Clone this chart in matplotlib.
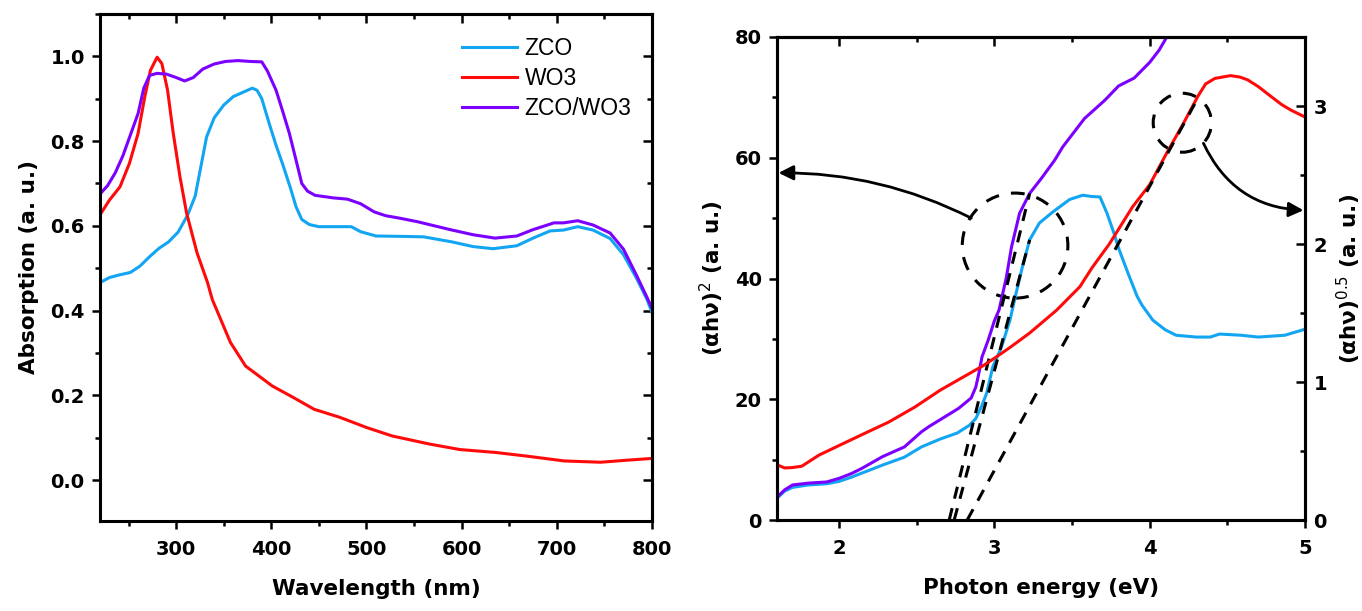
import matplotlib
matplotlib.use('Agg')
import matplotlib.pyplot as plt
from matplotlib.ticker import MultipleLocator
from matplotlib.patches import Ellipse

# ---- left panel: absorption spectra ----
wl_zco = [220, 230, 240, 252, 262, 272, 282, 292, 302, 312, 320, 326, 332, 340, 350,
          360, 370, 380, 385, 390, 398, 405, 412, 420, 426, 432, 440, 450, 470, 484,
          494, 510, 540, 560, 590, 612, 633, 658, 675, 693, 707, 722, 738, 756, 770,
          784, 795, 800]
abs_zco = [0.466, 0.478, 0.484, 0.490, 0.505, 0.527, 0.547, 0.562, 0.585, 0.625, 0.670,
           0.740, 0.810, 0.855, 0.885, 0.905, 0.915, 0.925, 0.920, 0.900, 0.840, 0.790,
           0.745, 0.690, 0.645, 0.615, 0.603, 0.598, 0.598, 0.598, 0.586, 0.576, 0.575,
           0.574, 0.562, 0.551, 0.546, 0.553, 0.571, 0.588, 0.590, 0.598, 0.590, 0.570,
           0.532, 0.475, 0.425, 0.395]

wl_wo3 = [220, 230, 241, 251, 260, 267, 273, 280, 285, 291, 297, 304, 311, 322, 333,
          338, 357, 373, 401, 423, 445, 472, 500, 527, 566, 598, 636, 670, 708, 746,
          775, 800]
abs_wo3 = [0.626, 0.661, 0.692, 0.748, 0.818, 0.904, 0.967, 0.998, 0.983, 0.920, 0.818,
           0.716, 0.630, 0.536, 0.466, 0.426, 0.325, 0.269, 0.222, 0.195, 0.167, 0.148,
           0.124, 0.104, 0.085, 0.072, 0.065, 0.056, 0.045, 0.042, 0.047, 0.051]

wl_mix = [220, 228, 236, 244, 252, 260, 266, 272, 280, 290, 300, 309, 318, 328, 340,
          352, 365, 378, 390, 396, 405, 412, 419, 426, 432, 438, 446, 465, 480, 494,
          508, 520, 535, 553, 588, 612, 635, 658, 675, 697, 707, 722, 738, 756, 770,
          784, 795, 800]
abs_mix = [0.675, 0.695, 0.725, 0.765, 0.815, 0.865, 0.925, 0.955, 0.960, 0.958, 0.950,
           0.942, 0.950, 0.970, 0.982, 0.988, 0.990, 0.988, 0.987, 0.965, 0.920, 0.870,
           0.818, 0.755, 0.700, 0.682, 0.672, 0.666, 0.663, 0.652, 0.633, 0.624, 0.618,
           0.610, 0.591, 0.579, 0.571, 0.576, 0.591, 0.607, 0.607, 0.612, 0.602, 0.583,
           0.545, 0.482, 0.430, 0.405]

# ---- right panel: Tauc plots ----
e_zco = [1.60, 1.65, 1.70, 1.80, 1.92, 2.00, 2.08, 2.15, 2.28, 2.42, 2.53, 2.65, 2.76,
         2.84, 2.88, 2.92, 2.95, 2.99, 3.045, 3.10, 3.14, 3.18, 3.227, 3.29, 3.375,
         3.485, 3.57, 3.62, 3.68, 3.725, 3.77, 3.80, 3.86, 3.92, 3.95, 4.02, 4.10, 4.17,
         4.30, 4.39, 4.45, 4.59, 4.70, 4.87, 5.00]
t_zco = [3.6, 4.8, 5.4, 5.8, 6.0, 6.4, 7.1, 7.8, 9.1, 10.4, 12.1, 13.4, 14.4, 15.7, 16.8,
         19.0, 21.0, 25.4, 28.6, 33.1, 37.6, 41.9, 46.4, 49.2, 51.0, 53.1, 53.8, 53.6,
         53.5, 50.8, 47.5, 45.0, 40.9, 37.0, 35.6, 33.1, 31.5, 30.6, 30.3, 30.3, 30.8,
         30.6, 30.3, 30.6, 31.6]

e_mix = [1.60, 1.65, 1.70, 1.80, 1.92, 2.00, 2.08, 2.15, 2.28, 2.42, 2.53, 2.58, 2.65,
         2.77, 2.85, 2.88, 2.90, 2.92, 2.96, 3.00, 3.03, 3.077, 3.11, 3.162, 3.227, 3.30,
         3.388, 3.44, 3.58, 3.71, 3.80, 3.90, 4.00, 4.06, 4.11]
t_mix = [3.8, 5.0, 5.8, 6.1, 6.3, 6.9, 7.7, 8.6, 10.5, 12.1, 14.6, 15.5, 16.6, 18.5, 20.2,
         22.0, 24.3, 27.0, 29.8, 33.0, 34.8, 40.2, 45.2, 50.8, 54.1, 56.5, 59.6, 61.8,
         66.5, 69.5, 71.9, 73.2, 75.8, 77.8, 80.0]

e_wo3 = [1.60, 1.65, 1.70, 1.76, 1.87, 2.00, 2.15, 2.32, 2.49, 2.65, 2.79, 2.93, 3.01,
         3.10, 3.227, 3.40, 3.55, 3.63, 3.74, 3.89, 4.00, 4.11, 4.22, 4.31, 4.36, 4.42,
         4.52, 4.58, 4.63, 4.70, 4.78, 4.85, 4.91, 5.00]
t_wo3 = [0.40, 0.377, 0.38, 0.39, 0.47, 0.54, 0.62, 0.71, 0.82, 0.94, 1.03, 1.12, 1.18,
         1.25, 1.355, 1.52, 1.69, 1.83, 2.00, 2.27, 2.43, 2.66, 2.88, 3.07, 3.16, 3.20,
         3.22, 3.21, 3.19, 3.14, 3.07, 3.01, 2.97, 2.92]

# linear fits (band-gap extrapolation)
fit_mix_e, fit_mix_t = [2.709, 3.227], [0, 54.1]
fit_zco_e, fit_zco_t = [2.741, 3.227], [0, 46.4]
fit_wo3_e, fit_wo3_t = [2.825, 4.314], [0, 3.065]

c_zco = '#12A5F2'
c_wo3 = '#FF0A0A'
c_mix = '#7B00FF'

plt.rcParams['font.family'] = 'DejaVu Sans'
plt.rcParams['mathtext.fontset'] = 'dejavusans'

fig = plt.figure(figsize=(13.62, 6.11), dpi=100)
ax = fig.add_axes([100 / 1362, 1 - 520.7 / 611, 552 / 1362, 506.7 / 611])
bx = fig.add_axes([777 / 1362, 1 - 520 / 611, 528 / 1362, 483 / 611])
bx2 = bx.twinx()

lw = 2.2
ax.plot(wl_zco, abs_zco, color=c_zco, lw=lw, label='ZCO')
ax.plot(wl_wo3, abs_wo3, color=c_wo3, lw=lw, label='WO3')
ax.plot(wl_mix, abs_mix, color=c_mix, lw=lw, label='ZCO/WO3')
ax.set_xlim(220, 800)
ax.set_ylim(-0.096, 1.1)
ax.set_xticks([300, 400, 500, 600, 700, 800])
ax.set_yticks([0.0, 0.2, 0.4, 0.6, 0.8, 1.0])
ax.xaxis.set_minor_locator(MultipleLocator(50))
ax.yaxis.set_minor_locator(MultipleLocator(0.1))
ax.set_xlabel('Wavelength (nm)', fontsize=15.5, fontweight='bold', labelpad=14)
ax.set_ylabel('Absorption (a. u.)', fontsize=15.5, fontweight='bold', labelpad=8)
leg = ax.legend(loc='upper left', bbox_to_anchor=(0.655, 0.955), frameon=False,
                prop={'family': 'Liberation Sans', 'size': 16.5},
                handlelength=2.4, handletextpad=0.35, labelspacing=0.3,
                borderpad=0, borderaxespad=0)

bx.plot(e_zco, t_zco, color=c_zco, lw=lw)
bx.plot(e_mix, t_mix, color=c_mix, lw=lw)
bx2.plot(e_wo3, t_wo3, color=c_wo3, lw=lw)
dash = dict(color='black', lw=2.2, ls=(0, (4, 3.2)))
bx.plot(fit_mix_e, fit_mix_t, **dash)
bx.plot(fit_zco_e, fit_zco_t, **dash)
bx2.plot(fit_wo3_e, fit_wo3_t, **dash)

bx.set_xlim(1.6, 5)
bx.set_ylim(0, 80)
bx2.set_ylim(0, 3.5)
bx.set_xticks([2, 3, 4, 5])
bx.set_yticks([0, 20, 40, 60, 80])
bx2.set_yticks([0, 1, 2, 3])
bx.xaxis.set_minor_locator(MultipleLocator(0.5))
bx.yaxis.set_minor_locator(MultipleLocator(10))
bx2.yaxis.set_minor_locator(MultipleLocator(0.5))
bx.set_xlabel('Photon energy (eV)', fontsize=15.5, fontweight='bold', labelpad=14)
bx.set_ylabel('(αhν)$^{2}$ (a. u.)', fontsize=15.5, fontweight='bold', labelpad=6)
bx2.set_ylabel('(αhν)$^{0.5}$ (a. u.)', fontsize=15.5, fontweight='bold', labelpad=6)

# circles and arrows
circ = dict(fill=False, ec='black', lw=2.2, ls=(0, (4.5, 4)))
bx.add_patch(Ellipse((3.133, 45.45), 0.68, 17.4, **circ))
bx.add_patch(Ellipse((4.21, 65.8), 0.375, 9.77, **circ))
bx.annotate('', xy=(1.61, 57.5), xytext=(2.851, 50.0),
            arrowprops=dict(arrowstyle='-|>', color='black', lw=2, mutation_scale=22,
                            shrinkA=0, shrinkB=0, connectionstyle='arc3,rad=0.12'))
bx.annotate('', xy=(4.99, 51.3), xytext=(4.346, 62.4),
            arrowprops=dict(arrowstyle='-|>', color='black', lw=2, mutation_scale=22,
                            shrinkA=0, shrinkB=0, connectionstyle='arc3,rad=0.3'))

# axis styling: bottom/left ticks out, top/right ticks in
for a in (ax, bx, bx2):
    for s in a.spines.values():
        s.set_linewidth(2.2)
for a in (ax, bx):
    a.tick_params(which='major', direction='out', length=6, width=1.8, labelsize=14, pad=5)
    a.tick_params(which='minor', direction='out', length=3.5, width=1.8)
    a.tick_params(axis='x', which='major', pad=8)
    for lab in a.get_xticklabels() + a.get_yticklabels():
        lab.set_fontweight('bold')
    top = a.secondary_xaxis('top')
    top.set_xticks(a.get_xticks())
    top.xaxis.set_minor_locator(a.xaxis.get_minor_locator())
    top.tick_params(which='major', direction='in', length=6.5, width=1.8, labeltop=False)
    top.tick_params(which='minor', direction='in', length=3.5, width=1.8)
    top.spines['top'].set_linewidth(2.2)

rgt = ax.secondary_yaxis('right')
rgt.set_yticks(ax.get_yticks())
rgt.yaxis.set_minor_locator(MultipleLocator(0.1))
rgt.tick_params(which='major', direction='in', length=6.5, width=1.8, labelright=False)
rgt.tick_params(which='minor', direction='in', length=3.5, width=1.8)
rgt.spines['right'].set_linewidth(2.2)

bx2.tick_params(which='major', direction='in', length=6.5, width=1.8, labelsize=14, pad=6)
bx2.tick_params(which='minor', direction='in', length=3.5, width=1.8)
for lab in bx2.get_yticklabels():
    lab.set_fontweight('bold')

fig.savefig('out.png', dpi=100)
